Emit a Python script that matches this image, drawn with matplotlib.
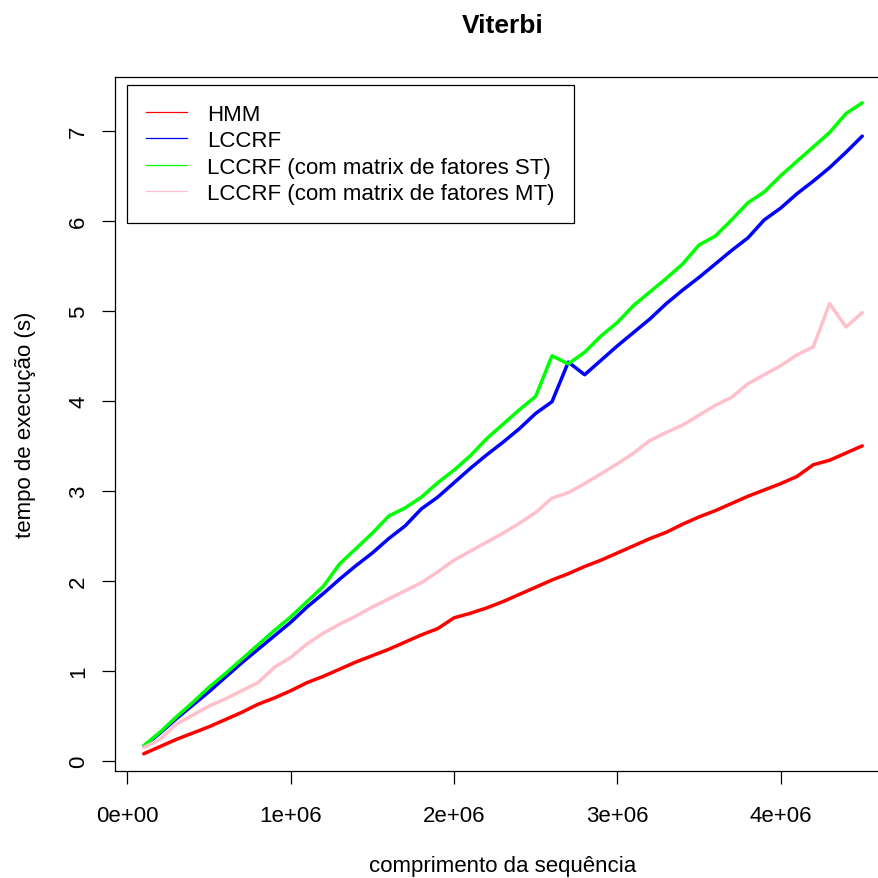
import matplotlib
matplotlib.use("Agg")
import matplotlib.pyplot as plt
from matplotlib.lines import Line2D

plt.rcParams['font.family'] = ['Liberation Sans', 'DejaVu Sans']

# comprimento da sequência (1e5 até 4.5e6)
comprimento = [i * 100000 for i in range(1, 46)]

hmm = [0.08, 0.16, 0.24, 0.31, 0.38, 0.46, 0.54, 0.63, 0.70, 0.78,
       0.87, 0.94, 1.02, 1.10, 1.17, 1.24, 1.32, 1.40, 1.47, 1.59,
       1.64, 1.70, 1.77, 1.85, 1.93, 2.01, 2.08, 2.16, 2.23, 2.31,
       2.39, 2.47, 2.54, 2.63, 2.71, 2.78, 2.86, 2.94, 3.01, 3.08,
       3.16, 3.29, 3.34, 3.42, 3.50]

lccrf = [0.16, 0.31, 0.47, 0.62, 0.77, 0.93, 1.09, 1.24, 1.39, 1.54,
         1.71, 1.86, 2.02, 2.17, 2.31, 2.47, 2.61, 2.80, 2.93, 3.09,
         3.25, 3.40, 3.54, 3.69, 3.86, 3.99, 4.43, 4.29, 4.45, 4.61,
         4.76, 4.91, 5.08, 5.23, 5.37, 5.52, 5.67, 5.81, 6.01, 6.14,
         6.30, 6.44, 6.59, 6.76, 6.94]

lccrf_st = [0.17, 0.32, 0.49, 0.65, 0.82, 0.97, 1.13, 1.29, 1.45, 1.60,
            1.77, 1.94, 2.19, 2.36, 2.53, 2.72, 2.81, 2.93, 3.09, 3.23,
            3.39, 3.58, 3.74, 3.90, 4.05, 4.50, 4.41, 4.54, 4.72, 4.87,
            5.06, 5.21, 5.36, 5.52, 5.73, 5.83, 6.01, 6.20, 6.32, 6.50,
            6.66, 6.82, 6.98, 7.19, 7.31]

lccrf_mt = [0.15, 0.24, 0.41, 0.51, 0.61, 0.69, 0.78, 0.87, 1.04, 1.15,
            1.30, 1.42, 1.52, 1.61, 1.71, 1.80, 1.89, 1.98, 2.10, 2.23,
            2.33, 2.43, 2.53, 2.64, 2.76, 2.92, 2.98, 3.08, 3.19, 3.30,
            3.42, 3.56, 3.65, 3.73, 3.84, 3.95, 4.04, 4.19, 4.29, 4.39,
            4.51, 4.60, 5.08, 4.82, 4.98]

nomes = ["HMM", "LCCRF", "LCCRF (com matrix de fatores ST)",
         "LCCRF (com matrix de fatores MT)"]
cores = ["#FF0000", "#0000FF", "#00FF00", "#FFC0CB"]
series = [hmm, lccrf, lccrf_st, lccrf_mt]

fig = plt.figure(figsize=(8.79, 8.79), dpi=100)
W = 879.0
# o eixo vai além da borda direita (no original a borda direita fica cortada)
ax = fig.add_axes([115 / W, (W - 771.7) / W, (891 - 115) / W, (771.7 - 77.7) / W])

for y, c in zip(series, cores):
    ax.plot(comprimento, y, color=c, lw=2.5, solid_capstyle='round')

ax.set_xlim(-76000, 4676000)
ax.set_ylim(-0.108, 7.60)

ax.set_xticks([0, 1e6, 2e6, 3e6, 4e6])
ax.set_xticklabels(["0e+00", "1e+06", "2e+06", "3e+06", "4e+06"])
ax.set_yticks(range(0, 8))

for s in ax.spines.values():
    s.set_linewidth(0.9)
    s.set_color('black')
ax.spines['right'].set_visible(False)

ax.tick_params(axis='both', direction='out', length=9.5, width=0.9,
               labelsize=16, colors='black')
ax.tick_params(axis='x', pad=15)
ax.tick_params(axis='y', pad=9)
for lab in ax.get_yticklabels():
    lab.set_rotation(90)
    lab.set_va('center')

ax.set_title("Viterbi", fontsize=19, fontweight='bold', pad=32)
ax.set_xlabel("comprimento da sequência", fontsize=16, labelpad=21)
ax.set_ylabel("tempo de execução (s)", fontsize=16, labelpad=23)

handles = [Line2D([0], [0], color=c, lw=0.9) for c in cores]
leg = ax.legend(handles, nomes, loc='upper left',
                bbox_to_anchor=(127 / W, 1 - 86 / W), bbox_transform=fig.transFigure,
                borderaxespad=0, fontsize=16, frameon=True, fancybox=False,
                edgecolor='black', framealpha=1, borderpad=0.85,
                labelspacing=0.24, handlelength=1.86, handletextpad=0.9)
leg.get_frame().set_linewidth(0.9)

fig.savefig("out.png", dpi=100)
